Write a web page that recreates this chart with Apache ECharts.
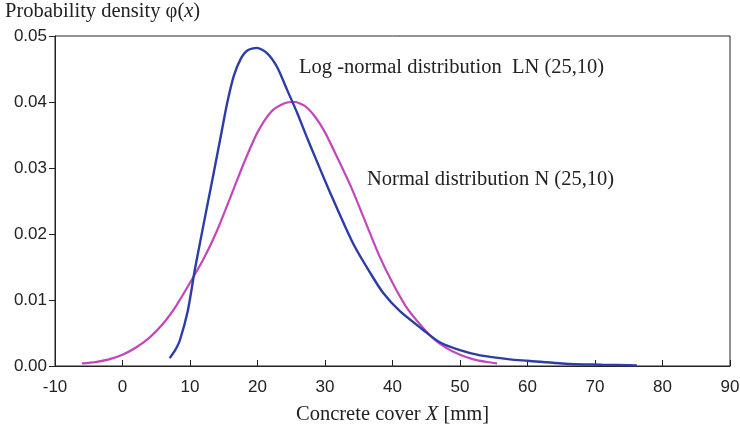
<!DOCTYPE html>
<html>
<head>
<meta charset="utf-8">
<script src="https://cdn.jsdelivr.net/npm/echarts@6/dist/echarts.min.js"></script>
<style>
  html, body { margin: 0; padding: 0; background: #fff; }
  #chart { width: 740px; height: 427px; }
</style>
</head>
<body>
<div id="chart"></div>
<script>
// values
const normalX = [-6, -4, -2, 0, 2, 4, 6, 8, 10, 12, 14, 16, 18, 20, 22, 24, 25.5, 27, 28.5, 30, 32, 34, 36, 38, 40, 42, 44, 46, 48, 50, 52, 54, 55.5];
const normalY = [0.0004, 0.0006, 0.0010, 0.0017, 0.0028, 0.0043, 0.0064, 0.0092, 0.0126, 0.0162, 0.0205, 0.0256, 0.0308, 0.0354, 0.0385, 0.0398, 0.0400, 0.0394, 0.0378, 0.0354, 0.0312, 0.0268, 0.0218, 0.0168, 0.0126, 0.0090, 0.0064, 0.0042, 0.0027, 0.0017, 0.0010, 0.0006, 0.0004];

const lognX = [7.0, 7.8, 8.5, 9.7, 10.7, 11.6, 12.5, 13.5, 14.5, 15.5, 16.5, 17.5, 18.5, 19.9, 21.4, 22.9, 24.4, 25.9, 27.3, 28.8, 30.7, 33.0, 34.4, 36.7, 38.6, 41.1, 44.5, 47.0, 50.0, 53.0, 57.4, 60.0, 66.3, 71.0, 76.2];
const lognY = [0.0012, 0.0024, 0.0039, 0.0085, 0.0145, 0.0193, 0.0240, 0.0292, 0.0345, 0.0398, 0.0440, 0.0465, 0.0478, 0.0482, 0.0474, 0.0453, 0.0418, 0.0383, 0.0347, 0.0310, 0.0264, 0.0211, 0.0181, 0.0141, 0.0111, 0.0083, 0.0055, 0.0036, 0.0024, 0.0016, 0.0010, 0.0008, 0.0003, 0.0002, 0.0001];

const xTicks = [-10, 0, 10, 20, 30, 40, 50, 60, 70, 80, 90];
const yTicks = [0, 0.01, 0.02, 0.03, 0.04, 0.05];

const serif = '"Liberation Serif", "DejaVu Serif", serif';
const sans = '"Liberation Sans", Arial, sans-serif';

const chart = echarts.init(document.getElementById('chart'));

const zip = (xs, ys) => xs.map((x, i) => [x, ys[i]]);

chart.setOption({
  animation: false,
  grid: {
    left: 55, right: 10, top: 36, bottom: 61,
    outerBoundsMode: 'none', containLabel: false,
    show: true, borderColor: '#222', borderWidth: 1
  },
  xAxis: {
    type: 'value',
    min: xTicks[0],
    max: xTicks[xTicks.length - 1],
    interval: 10,
    axisLine: { show: true, onZero: false, lineStyle: { color: '#222', width: 1 } },
    axisTick: { show: true, inside: true, length: 6, lineStyle: { color: '#222' } },
    axisLabel: { color: '#222', fontFamily: sans, fontSize: 17, margin: 13 },
    splitLine: { show: false },
    name: '{a|Concrete cover }{i|X}{a| [mm]}',
    nameLocation: 'middle',
    nameGap: 38,
    nameTextStyle: {
      rich: {
        a: { fontFamily: serif, fontSize: 20.5, color: '#222' },
        i: { fontFamily: serif, fontSize: 20.5, fontStyle: 'italic', color: '#222' }
      }
    }
  },
  yAxis: {
    type: 'value',
    min: yTicks[0],
    max: yTicks[yTicks.length - 1],
    interval: 0.01,
    axisLine: { show: true, onZero: false, lineStyle: { color: '#222', width: 1 } },
    axisTick: { show: true, inside: false, length: 6, lineStyle: { color: '#222' } },
    axisLabel: { color: '#222', fontFamily: sans, fontSize: 17, margin: 8, formatter: v => v.toFixed(2) },
    splitLine: { show: false }
  },
  graphic: [
    {
      type: 'text', left: 5, top: 1,
      style: {
        text: '{a|Probability density φ(}{i|x}{a|)}',
        rich: {
          a: { fontFamily: serif, fontSize: 20.5, fill: '#222' },
          i: { fontFamily: serif, fontSize: 20.5, fontStyle: 'italic', fill: '#222' }
        }
      }
    },
    {
      type: 'text', left: 299, top: 57,
      style: { text: 'Log -normal distribution  LN (25,10)', fontFamily: serif, fontSize: 20.5, fill: '#222' }
    },
    {
      type: 'text', left: 367, top: 169,
      style: { text: 'Normal distribution N (25,10)', fontFamily: serif, fontSize: 20.5, fill: '#222' }
    }
  ],
  series: [
    {
      name: 'Normal', type: 'line', data: zip(normalX, normalY),
      showSymbol: false, smooth: 0.25,
      lineStyle: { color: '#c147bb', width: 2.2 }
    },
    {
      name: 'Log-normal', type: 'line', data: zip(lognX, lognY),
      showSymbol: false, smooth: 0.25,
      lineStyle: { color: '#2c3da8', width: 2.4 }
    }
  ]
});
</script>
</body>
</html>
